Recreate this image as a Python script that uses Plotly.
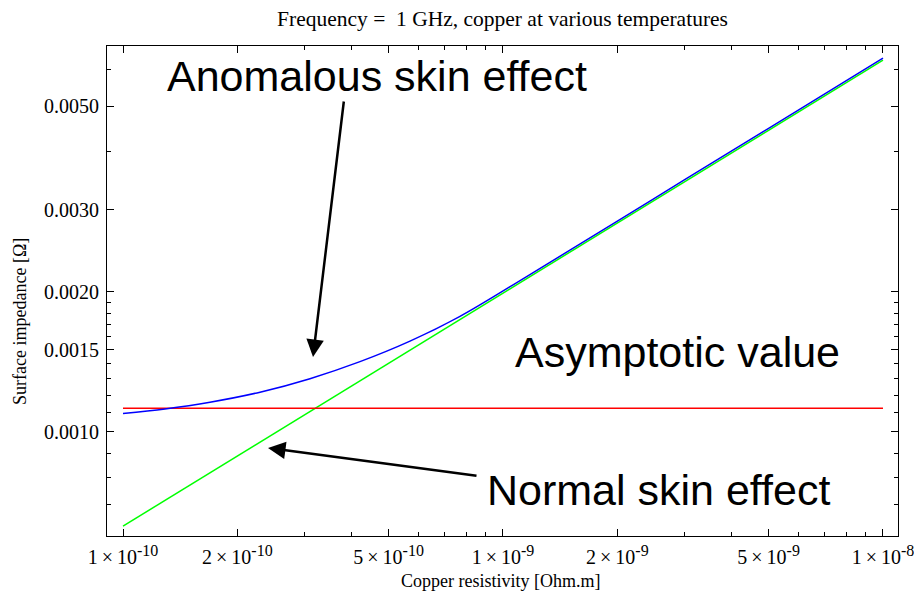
import plotly.graph_objects as go

# ---------------- data ----------------
resistivity_blue = [1.0e-10, 1.290e-10, 1.694e-10, 2.294e-10, 3.105e-10, 4.204e-10, 5.692e-10,
                    7.706e-10, 1.157e-9, 2.0e-9, 3.0e-9, 5.0e-9, 1.0e-8]
impedance_anomalous = [1.0957e-3, 1.1209e-3, 1.1586e-3, 1.2172e-3, 1.3014e-3, 1.4155e-3, 1.5664e-3,
                       1.7703e-3, 2.158e-3, 2.836e-3, 3.474e-3, 4.485e-3, 6.343e-3]

resistivity_green = [1.0e-10, 1.0e-9, 1.0e-8]
impedance_normal = [6.28e-4, 1.986e-3, 6.28e-3]

resistivity_red = [1.0e-10, 1.0e-8]
impedance_asymptotic = [1.124e-3, 1.124e-3]

TS = "\u2009×\u2009"
EXP = "<sup><span style='font-size:16px'>{}</span></sup>"
x_tickvals = [1e-10, 2e-10, 5e-10, 1e-9, 2e-9, 5e-9, 1e-8]
x_mant = ["1", "2", "5", "1", "2", "5", "1"]
x_exp = ["-10", "-10", "-10", "-9", "-9", "-9", "-8"]
x_ticktext = [m + TS + "10" + EXP.format(e) for m, e in zip(x_mant, x_exp)]
x_minor = [3e-10, 4e-10, 6e-10, 7e-10, 8e-10, 9e-10, 3e-9, 4e-9, 6e-9, 7e-9, 8e-9, 9e-9]

y_tickvals = [0.0010, 0.0015, 0.0020, 0.0030, 0.0050]
y_ticktext = ["0.0010", "0.0015", "0.0020", "0.0030", "0.0050"]
y_minor = [0.0007, 0.0008, 0.0009, 0.0011, 0.0012, 0.0013, 0.0014, 0.0016, 0.0017,
           0.0018, 0.0019, 0.0040, 0.0060]

# ---------------- figure ----------------
SERIF = "Liberation Serif"
SANS = "Liberation Sans"

fig = go.Figure()
fig.add_trace(go.Scatter(x=resistivity_green, y=impedance_normal, mode="lines",
                         line=dict(color="#00ff00", width=1.5), showlegend=False))
fig.add_trace(go.Scatter(x=resistivity_red, y=impedance_asymptotic, mode="lines",
                         line=dict(color="#ff0000", width=1.5), showlegend=False))
fig.add_trace(go.Scatter(x=resistivity_blue, y=impedance_anomalous, mode="lines",
                         line=dict(color="#0000ff", width=1.5, shape="spline"), showlegend=False))

L, R, T, B = 107, 16, 46, 60
W, H = 914, 596
pw, ph = W - L - R, H - T - B


def px(X):
    return (X - L) / pw


def py(Y):
    return (H - B - Y) / ph


axis_common = dict(
    type="log", showline=True, linecolor="black", linewidth=1, mirror="allticks",
    ticks="inside", ticklen=7, tickcolor="black", tickwidth=1, showgrid=False,
    zeroline=False, automargin=False, ticklabeloverflow="allow",
    tickfont=dict(family=SERIF, size=20, color="black"),
)

fig.update_layout(
    width=W, height=H,
    margin=dict(l=L, r=R, t=T, b=B),
    plot_bgcolor="white", paper_bgcolor="white",
    title=dict(text="Frequency =  1 GHz, copper at various temperatures",
               xref="paper", x=0.5, xanchor="center", y=1 - 18 / H, yanchor="middle",
               font=dict(family=SERIF, size=21.5, color="black")),
    xaxis=dict(axis_common, range=[-10.0421, -7.9605], tickmode="array",
               tickvals=x_tickvals, ticktext=x_ticktext, ticklabelstandoff=3,
               minor=dict(tickmode="array", tickvals=x_minor, ticks="inside", ticklen=4,
                          tickcolor="black", showgrid=False)),
    yaxis=dict(axis_common, range=[-3.2232, -2.1717], tickmode="array",
               tickvals=y_tickvals, ticktext=y_ticktext, ticklabelstandoff=3,
               minor=dict(tickmode="array", tickvals=y_minor, ticks="inside", ticklen=4,
                          tickcolor="black", showgrid=False)),
)

axis_title_font = dict(family=SERIF, size=18, color="black")
fig.add_annotation(text="Copper resistivity [Ohm.m]", xref="paper", yref="paper",
                   x=px(500), y=py(581), xanchor="center", yanchor="middle",
                   showarrow=False, font=axis_title_font)
fig.add_annotation(text="Surface impedance [Ω]", xref="paper", yref="paper",
                   x=px(20), y=py(322), xanchor="center", yanchor="middle",
                   textangle=-90, showarrow=False, font=axis_title_font)

big = dict(family=SANS, size=43, color="black")
fig.add_annotation(text="Anomalous skin effect", xref="paper", yref="paper",
                   x=px(165), y=py(76), xanchor="left", yanchor="middle",
                   showarrow=False, font=big)
fig.add_annotation(text="Asymptotic value", xref="paper", yref="paper",
                   x=px(513), y=py(352), xanchor="left", yanchor="middle",
                   showarrow=False, font=big)
fig.add_annotation(text="Normal skin effect", xref="paper", yref="paper",
                   x=px(485), y=py(490), xanchor="left", yanchor="middle",
                   showarrow=False, font=big)

arrow = dict(showarrow=True, text="", xref="paper", yref="paper", axref="pixel",
             ayref="pixel", arrowhead=2, arrowsize=1.4, arrowwidth=2.5,
             arrowcolor="black")
fig.add_annotation(x=px(313), y=py(357), ax=31, ay=-257, **arrow)
fig.add_annotation(x=px(268), y=py(448), ax=210, ay=28, **arrow)

fig.write_html("out.html", config={"displayModeBar": False},
               post_script="document.body.style.margin='0';document.body.style.overflow='hidden';")
